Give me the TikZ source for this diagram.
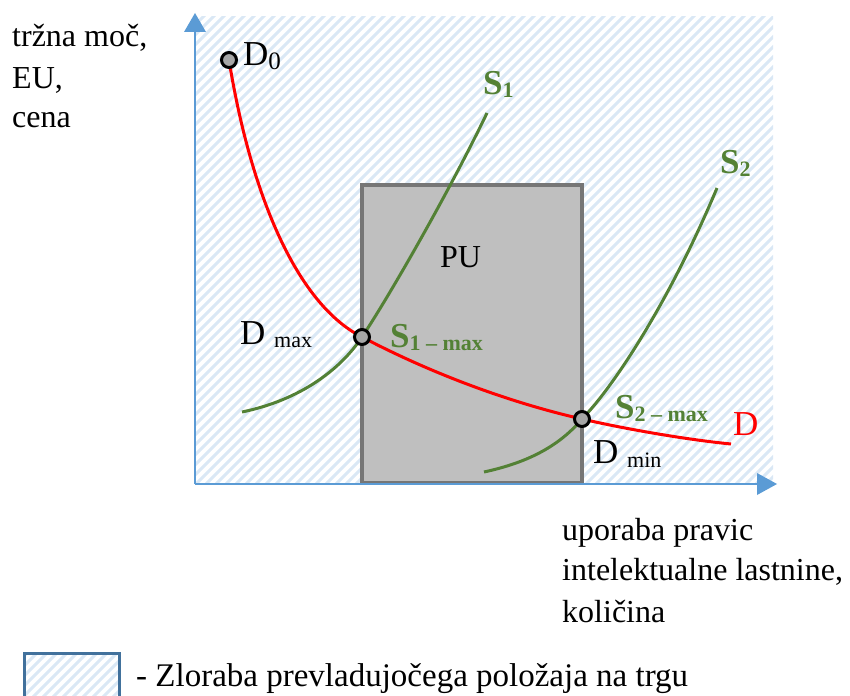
\documentclass[tikz,border=0pt]{standalone}
\usepackage{fontspec}
\setmainfont{Liberation Serif}
\definecolor{axisblue}{RGB}{91,155,213}
\definecolor{hatchblue}{RGB}{218,232,245}
\definecolor{legendblue}{RGB}{65,113,156}
\definecolor{boxgray}{RGB}{191,191,191}
\definecolor{boxedge}{RGB}{118,118,118}
\definecolor{ptgray}{RGB}{166,166,166}
\definecolor{sgreen}{RGB}{83,129,53}
\newcommand{\bigtxt}{\fontsize{32}{39}\selectfont}
\newcommand{\legtxtfont}{\fontsize{33}{39}\selectfont}
\newcommand{\lbltxt}{\fontsize{35}{39}\selectfont}
\newcommand{\subtxt}{\fontsize{22}{22}\selectfont}
\begin{document}
\begin{tikzpicture}[x=1pt,y=-1pt,
  lbl/.style={anchor=base west,inner sep=0pt,font=\bigtxt},
  dlbl/.style={anchor=base west,inner sep=0pt,font=\lbltxt},
  slbl/.style={anchor=base west,inner sep=0pt,font=\lbltxt\bfseries,text=sgreen},
  axisline/.style={draw=axisblue,line width=2pt},
  curveD/.style={draw=red,line width=3pt},
  curveS/.style={draw=sgreen,line width=3pt},
  pt/.style={circle,fill=ptgray,draw=black,line width=3pt,minimum size=15pt,inner sep=0pt},
  hatchline/.style={draw=hatchblue,line width=3pt}]
\useasboundingbox (0,0) rectangle (850,695);
% hatched region
\begin{scope}
  \clip (195,17) rectangle (773,483);
  \foreach \o in {-500,-490,...,780} {
    \draw[hatchline] (\o,500) -- (\o+500,0);
  }
\end{scope}
% PU box
\node[draw=boxedge,fill=boxgray,line width=4pt,minimum width=220pt,minimum height=298pt,inner sep=0pt] (pu) at (472,334) {};
\node[lbl] (putxt) at (440,267) {PU};
% axes
\coordinate (origin) at (195,484);
\coordinate (ytip) at (195,13);
\coordinate (xtip) at (777,484);
\draw[axisline] (origin) -- (195,30);
\draw[axisline] (origin) -- (760,484);
\fill[axisblue] (ytip) -- (184,32) -- (206,32) -- cycle;
\fill[axisblue] (xtip) -- (757,473) -- (757,495) -- cycle;
% points (coordinates)
\coordinate (pd0) at (229,60);
\coordinate (pdmax) at (362,337);
\coordinate (pdmin) at (582,419);
\coordinate (s1a) at (242,412);
\coordinate (s1b) at (487,113);
\coordinate (s2a) at (484,472);
\coordinate (s2b) at (717,188);
\coordinate (dend) at (731,444);
% curves
\draw[curveS] (s1a) .. controls (300,400) and (340,370) .. (pdmax)
  .. controls (390,295) and (450,190) .. (s1b);
\draw[curveS] (s2a) .. controls (530,462) and (560,445) .. (pdmin)
  .. controls (615,385) and (670,300) .. (s2b);
\draw[curveD] (pd0) .. controls (250,190) and (295,303) .. (pdmax)
  .. controls (440,378) and (520,405) .. (pdmin)
  .. controls (630,430) and (690,440) .. (dend);
% points
\node[pt] (d0) at (pd0) {};
\node[pt] (dmax) at (pdmax) {};
\node[pt] (dmin) at (pdmin) {};
% labels
\node[dlbl] (d0lbl) at (243,66) {D\raisebox{-4pt}{\fontsize{25}{25}\selectfont 0}};
\node[slbl] (s1lbl) at (483,95) {S\raisebox{-3pt}{\subtxt 1}};
\node[slbl] (s2lbl) at (720,173) {S\raisebox{-3pt}{\subtxt 2}};
\node[dlbl] (dmaxlbl) at (240,344) {D \raisebox{-3pt}{\subtxt max}};
\node[slbl] (s1max) at (390,347) {S\raisebox{-3pt}{\subtxt 1 – max}};
\node[slbl] (s2max) at (615,418) {S\raisebox{-3pt}{\subtxt 2 – max}};
\node[dlbl,text=red] (dlbl) at (733,435) {D};
\node[dlbl] (dminlbl) at (593,463) {D \raisebox{-4pt}{\subtxt min}};
% axis texts
\node[lbl] (yl1) at (12,47) {tržna moč,};
\node[lbl] (yl2) at (12,89) {EU,};
\node[lbl] (yl3) at (12,128) {cena};
\node[lbl] (xl1) at (562,540) {uporaba pravic};
\node[lbl] (xl2) at (562,580) {intelektualne lastnine,};
\node[lbl] (xl3) at (562,622) {količina};
% legend
\begin{scope}
  \clip (24,653) rectangle (119,700);
  \foreach \o in {-100,-90,...,130} {
    \draw[hatchline] (\o,700) -- (\o+60,640);
  }
\end{scope}
\draw[draw=legendblue,line width=3pt] (24,700) -- (24,653) -- (119,653) -- (119,700);
\node[lbl,font=\legtxtfont] (legtxt) at (136,686) {- Zloraba prevladujočega položaja na trgu};
\end{tikzpicture}
\end{document}
